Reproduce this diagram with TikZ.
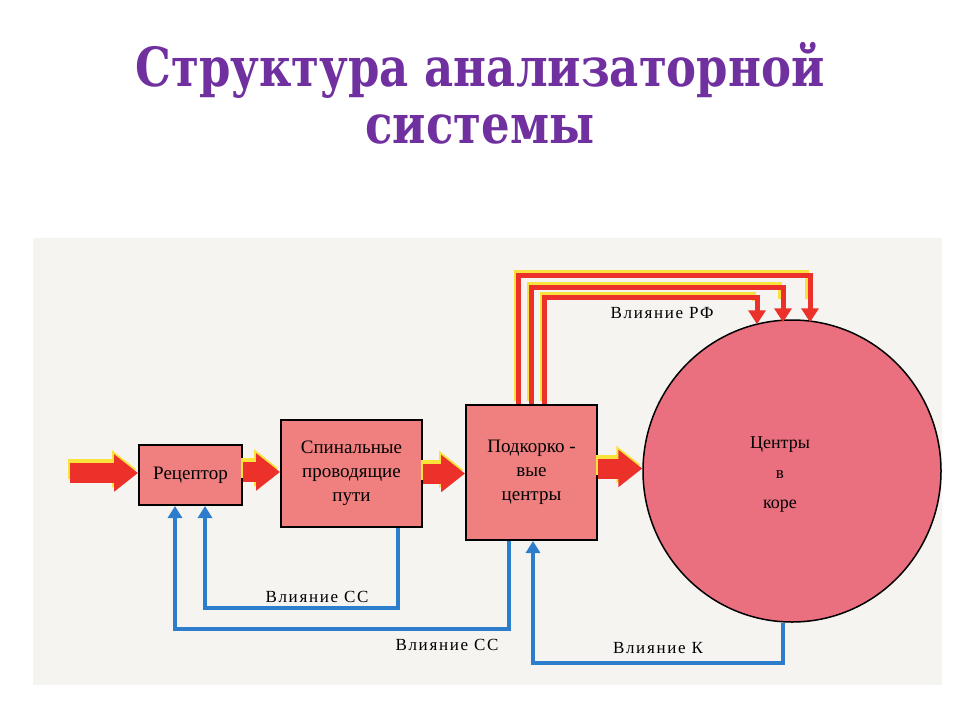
\documentclass[tikz,border=0pt]{standalone}
\usepackage{fontspec}
\setmainfont{Liberation Serif}
\newfontfamily\titlefont{DejaVu Serif}
\newfontfamily\labfont[LetterSpace=10]{Liberation Serif}
\usetikzlibrary{arrows.meta,shapes.geometric,calc}
\definecolor{purp}{RGB}{112,48,160}
\definecolor{panel}{RGB}{245,244,241}
\definecolor{boxpink}{RGB}{240,128,128}
\definecolor{circpink}{RGB}{234,112,128}
\definecolor{arrred}{RGB}{236,48,42}
\definecolor{arryel}{RGB}{250,226,60}
\definecolor{arrblue}{RGB}{45,125,205}
\tikzset{
  box/.style={draw=black, line width=2pt, fill=boxpink, align=center, inner sep=0pt,
    font=\fontsize{19}{24}\selectfont},
  fatred/.style={draw=arrred, line width=20pt, -{Triangle[length=24pt,width=36pt]}},
  fatyel/.style={draw=arryel, line width=20pt, -{Triangle[length=24pt,width=36pt]}},
  rfred/.style={draw=arrred, line width=5pt, -{Triangle[length=14pt,width=17pt]}},
  rfyel/.style={draw=arryel, line width=4pt},
  blue line/.style={draw=arrblue, line width=4pt, -{Triangle[length=12pt,width=14pt]}},
  lab/.style={font=\labfont\fontsize{17}{19}\selectfont, inner sep=1pt}
}
\begin{document}
\begin{tikzpicture}[x=1pt,y=-1pt]
\useasboundingbox (0,0) rectangle (960,720);
\fill[white] (0,0) rectangle (960,720);
\fill[panel] (33,238) rectangle (942,685);

\node[font=\titlefont\bfseries\fontsize{45}{57}\selectfont, text=purp, align=center] (title) at (480,93) {\scalebox{1}[1.2]{Структура анализаторной}\\\scalebox{1}[1.2]{системы}};

\node[box, minimum width=103pt, minimum height=60pt] (rec) at (190.5,475) {Рецептор};
\node[box, minimum width=141pt, minimum height=107pt] (spin) at (351.5,473.5) {Спинальные\\проводящие\\пути};
\node[box, minimum width=131pt, minimum height=135pt] (sub) at (531.5,472.5) {Подкорко -\\вые\\центры};
\node[ellipse, draw=black, line width=1.5pt, fill=circpink, minimum width=298pt, minimum height=302pt, inner sep=0pt] (cortex) at (792,471) {};
\node[align=center, font=\fontsize{18}{30}\selectfont, inner sep=0pt] (ctext) at ($(cortex.center)+(-12,4)$) {Центры\\{\fontsize{17}{30}\selectfont в}\\коре};

\coordinate (in) at (70,473);
% fat red arrows with yellow shadow (offset up-left)
\draw[fatyel] ($(in)+(-2,-4)$) -- ($(in -| rec.west)+(-2,-4)$);
\draw[fatyel] ($(rec.east)+(-2,-7)$) -- ($(rec.east -| spin.west)+(-2,-7)$);
\draw[fatyel] ($(spin.east)+(-2,-4)$) -- ($(spin.east -| sub.west)+(-2,-4)$);
\draw[fatyel] ($(sub.east)+(-2,-8)$) -- ($(sub.east -| cortex.west)+(-2,-8)$);
\draw[fatred] (in) -- (in -| rec.west);
\draw[fatred] ($(rec.east)+(0,-3)$) -- ($(rec.east -| spin.west)+(0,-3)$);
\draw[fatred] (spin.east) -- (spin.east -| sub.west);
\draw[fatred] ($(sub.east)+(0,-4)$) -- ($(sub.east -| cortex.west)+(0,-4)$);

% RF influence lines
\draw[rfyel] ($(sub.north)+(-16,-3)$) |- ($(cortex.north)+(15,-47)$) -- ($(cortex.north)+(15,-20)$);
\draw[rfyel] ($(sub.north)+(-3,-3)$) |- ($(cortex.north)+(-12,-35)$) -- ($(cortex.north)+(-12,-20)$);
\draw[rfyel] ($(sub.north)+(10,-3)$) |- ($(cortex.north)+(-38,-25)$) -- ($(cortex.north)+(-38,-18)$);
\draw[rfred] ($(sub.north)+(-13,0)$) |- ($(cortex.north)+(18,-44)$) -- ($(cortex.north)+(18,3)$);
\draw[rfred] ($(sub.north)+(0,0)$) |- ($(cortex.north)+(-9,-32)$) -- ($(cortex.north)+(-9,3)$);
\draw[rfred] ($(sub.north)+(13,0)$) |- ($(cortex.north)+(-35,-22)$) -- ($(cortex.north)+(-35,5)$);

% blue feedback lines
\draw[blue line] ($(spin.south)+(46.5,0)$) |- ($(rec.south)+(14.5,102)$) -- ($(rec.south)+(14.5,0)$);
\draw[blue line] ($(sub.south)+(-22.5,0)$) |- ($(rec.south)+(-15.5,123)$) -- ($(rec.south)+(-15.5,0)$);
\draw[blue line] ($(cortex.south)+(-9,0)$) |- ($(sub.south)+(1.5,122)$) -- ($(sub.south)+(1.5,0)$);

\node[lab] (lrf) at (662,313) {Влияние РФ};
\node[lab] (lss1) at (317,597) {Влияние СС};
\node[lab] (lss2) at (447,645) {Влияние СС};
\node[lab] (lk) at (658,648) {Влияние К};
\end{tikzpicture}
\end{document}
